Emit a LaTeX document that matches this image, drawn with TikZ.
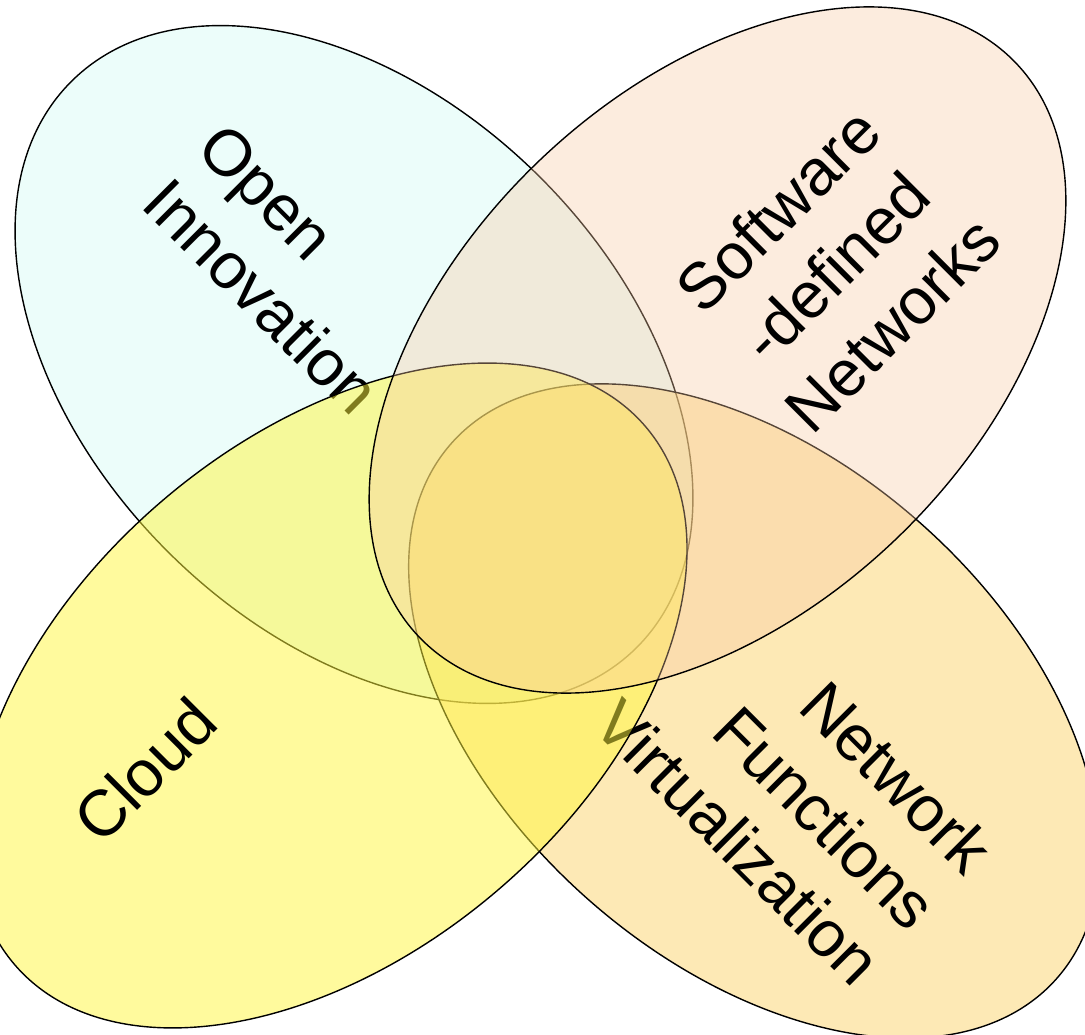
\documentclass[tikz,border=0pt]{standalone}
\usepackage{fontspec}
\setmainfont{Liberation Sans}
\definecolor{oifill}{RGB}{219,253,246}
\definecolor{sdnfill}{RGB}{249,201,161}
\definecolor{nfvfill}{RGB}{253,213,109}
\definecolor{cloudfill}{RGB}{255,247,60}
\begin{document}
\begin{tikzpicture}[x=1pt,y=-1pt,
  blob/.style={draw=black, line width=1.4pt},
  lbl/.style={inner sep=0pt, text=black}]
\useasboundingbox (0,0) rectangle (1085,1035);
\fill[white] (0,0) rectangle (1085,1035);
\begin{scope}
\clip (0,0) rectangle (1085,1035);
\coordinate (cOI) at (354,364.5);
\coordinate (cSDN) at (717.5,350);
\coordinate (cCL) at (330,695.5);
\coordinate (cNFV) at (754,711);
% Open Innovation
\path[blob, fill=oifill, fill opacity=0.5, rotate around={-45:(cOI)}]
  (cOI) ellipse [x radius=400pt, y radius=264pt];
\node[lbl, rotate=-45, align=left, font=\fontsize{65}{78}\selectfont] (oi) at (289,269) {Open\\Innovation};
% Network Functions Virtualization
\path[blob, fill=nfvfill, fill opacity=0.5, rotate around={-41.5:(cNFV)}]
  (cNFV) ellipse [x radius=404pt, y radius=251pt];
\node[lbl, rotate=-45, align=right, font=\fontsize{65}{79}\selectfont] (nfv) at (794,786) {Network\\Functions\\Virtualization};
% Cloud
\path[blob, fill=cloudfill, fill opacity=0.5, rotate around={40.4:(cCL)}]
  (cCL) ellipse [x radius=414.6pt, y radius=257pt];
\node[lbl, rotate=45, font=\fontsize{65}{78}\selectfont] (cloud) at (145,770) {Cloud};
% Software-defined Networks
\path[blob, fill=sdnfill, fill opacity=0.35, rotate around={44:(cSDN)}]
  (cSDN) ellipse [x radius=414pt, y radius=260pt];
\node[lbl, rotate=45, align=center, font=\fontsize{65}{81}\selectfont] (sdn) at (835,267) {Software\\-defined\\Networks};
\end{scope}
\end{tikzpicture}
\end{document}
